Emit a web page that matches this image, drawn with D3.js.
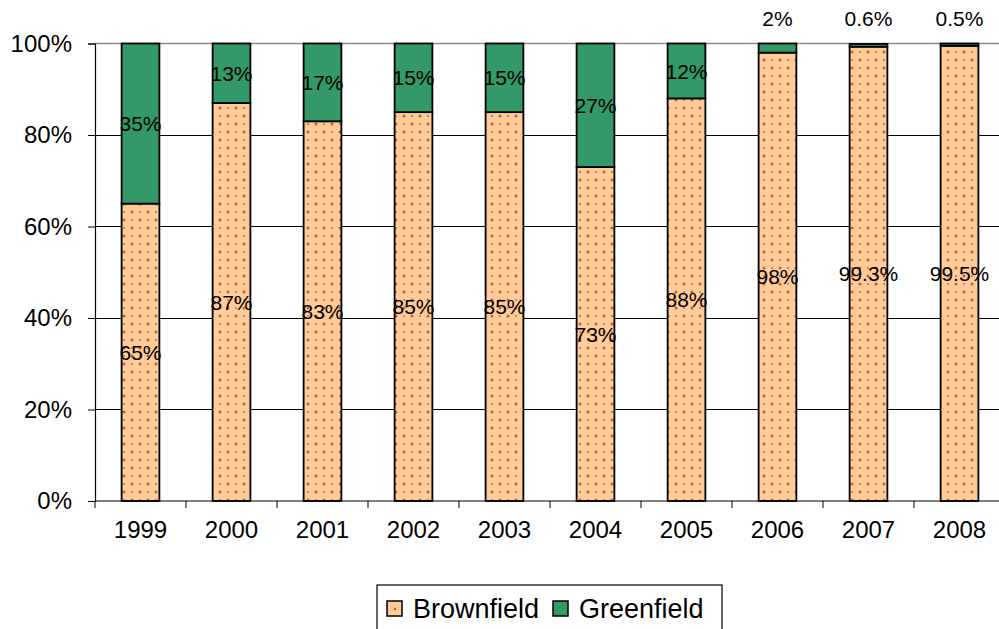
<!DOCTYPE html>
<html>
<head>
<meta charset="utf-8">
<script src="https://cdn.jsdelivr.net/npm/d3@7"></script>
<style>
  html, body { margin: 0; padding: 0; background: #fff; overflow: hidden; }
  svg { display: block; font-family: "Liberation Sans", Arial, sans-serif; }
</style>
</head>
<body>
<svg id="chart" width="999" height="629"></svg>
<script>
// Share of development by land type, per year
const years = ["1999", "2000", "2001", "2002", "2003", "2004", "2005", "2006", "2007", "2008"];
const brownfield = [65, 87, 83, 85, 85, 73, 88, 98, 99.3, 99.5];
const greenfield = [35, 13, 17, 15, 15, 27, 12, 2, 0.6, 0.5];
const brownLabels = ["65%", "87%", "83%", "85%", "85%", "73%", "88%", "98%", "99.3%", "99.5%"];
const greenLabels = ["35%", "13%", "17%", "15%", "15%", "27%", "12%", "2%", "0.6%", "0.5%"];
const yTicks = [0, 20, 40, 60, 80, 100];
const seriesNames = ["Brownfield", "Greenfield"];

const svg = d3.select("#chart");
const plot = { left: 95, right: 1005, top: 43.5, bottom: 501 };

const x = d3.scaleBand().domain(years).range([plot.left, plot.right]).paddingInner(0.585).paddingOuter(0.2925);
const band = d3.scaleBand().domain(years).range([plot.left, plot.right]);
const y = d3.scaleLinear().domain([0, 100]).range([plot.bottom, plot.top]);

// dotted fill for the brownfield segments
const defs = svg.append("defs");
const pat = defs.append("pattern")
  .attr("id", "dots").attr("patternUnits", "userSpaceOnUse")
  .attr("width", 16).attr("height", 16);
pat.append("rect").attr("width", 16).attr("height", 16).attr("fill", "#FFCC99");
[[4, 4, 1.5], [12, 12, 1.5], [12, 4, 0.9], [4, 12, 0.9]].forEach(([cx, cy, r]) => {
  pat.append("circle").attr("cx", cx).attr("cy", cy).attr("r", r).attr("fill", "#C0602E");
});

// gridlines
svg.append("g").selectAll("line")
  .data(yTicks.filter(t => t > 0 && t < 100))
  .join("line")
  .attr("x1", plot.left).attr("x2", plot.right)
  .attr("y1", d => y(d)).attr("y2", d => y(d))
  .attr("stroke", "#000").attr("stroke-width", 1).attr("shape-rendering", "crispEdges");
svg.append("line")
  .attr("x1", plot.left).attr("x2", plot.right)
  .attr("y1", y(100)).attr("y2", y(100))
  .attr("stroke", "#8c8c8c").attr("stroke-width", 1.5);

// stacked bars
const stackData = years.map((yr, i) => ({ year: yr, Brownfield: brownfield[i], Greenfield: greenfield[i] }));
const stack = d3.stack().keys(seriesNames)(stackData);
const fills = { Brownfield: "url(#dots)", Greenfield: "#339966" };

stack.forEach(layer => {
  svg.append("g").selectAll("rect")
    .data(layer)
    .join("rect")
    .attr("x", d => x(d.data.year))
    .attr("width", x.bandwidth())
    .attr("y", d => y(d[1]))
    .attr("height", d => y(d[0]) - y(d[1]))
    .attr("fill", fills[layer.key])
    .attr("stroke", "#000").attr("stroke-width", 1.8);
});

// y axis
const yAxis = d3.axisLeft(y).tickValues(yTicks).tickFormat(d => d + "%").tickSize(7).tickPadding(16);
const gy = svg.append("g").attr("transform", `translate(${plot.left},0)`).call(yAxis);
gy.select(".domain").attr("stroke", "#000").attr("stroke-width", 1.2);
gy.selectAll(".tick line").attr("stroke", "#000");
gy.selectAll(".tick text").attr("font-size", 24).attr("fill", "#000").attr("font-family", "Liberation Sans, Arial, sans-serif");

// x axis with ticks at category boundaries
svg.append("line")
  .attr("x1", plot.left).attr("x2", plot.right)
  .attr("y1", plot.bottom).attr("y2", plot.bottom)
  .attr("stroke", "#000").attr("stroke-width", 1.2);
svg.append("g").selectAll("line")
  .data(years)
  .join("line")
  .attr("x1", d => band(d)).attr("x2", d => band(d))
  .attr("y1", plot.bottom).attr("y2", plot.bottom + 7)
  .attr("stroke", "#000");
svg.append("g").selectAll("text")
  .data(years)
  .join("text")
  .attr("x", d => band(d) + band.bandwidth() / 2)
  .attr("y", plot.bottom + 37)
  .attr("text-anchor", "middle")
  .attr("font-size", 24)
  .text(d => d);

// value labels
const labelG = svg.append("g").attr("font-size", 21).attr("text-anchor", "middle");
years.forEach((yr, i) => {
  const cx = x(yr) + x.bandwidth() / 2;
  labelG.append("text")
    .attr("x", cx).attr("y", y(brownfield[i] / 2)).attr("dy", "0.36em")
    .text(brownLabels[i]);
  const gy0 = brownfield[i], gy1 = brownfield[i] + greenfield[i];
  const small = (y(gy0) - y(gy1)) < 20;
  labelG.append("text")
    .attr("x", cx)
    .attr("y", small ? y(100) - 25 : y((gy0 + gy1) / 2))
    .attr("dy", "0.36em")
    .text(greenLabels[i]);
});

// legend
const legend = svg.append("g");
legend.append("rect")
  .attr("x", 377).attr("y", 585).attr("width", 345).attr("height", 60)
  .attr("fill", "#fff").attr("stroke", "#000").attr("stroke-width", 1.2);
const legendX = [387, 553];
seriesNames.forEach((name, i) => {
  legend.append("rect")
    .attr("x", legendX[i]).attr("y", 601).attr("width", 15).attr("height", 15)
    .attr("fill", name === "Brownfield" ? "#FFCC99" : "#339966")
    .attr("stroke", "#000").attr("stroke-width", 1.5);
  if (name === "Brownfield") {
    legend.append("circle").attr("cx", legendX[i] + 8).attr("cy", 609).attr("r", 1.2)
      .attr("fill", "#C0602E");
  }
  legend.append("text")
    .attr("x", legendX[i] + 26).attr("y", 617.5)
    .attr("font-size", 27)
    .text(name);
});
</script>
</body>
</html>
